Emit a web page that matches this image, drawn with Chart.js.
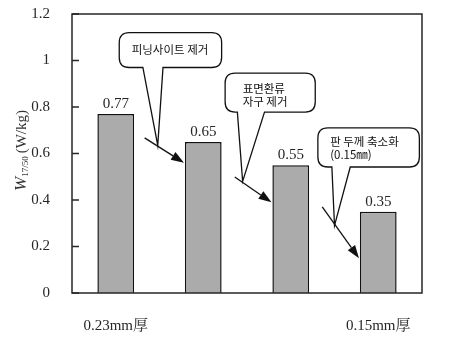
<!DOCTYPE html>
<html>
<head>
<meta charset="utf-8">
<script src="https://cdn.jsdelivr.net/npm/chart.js@4.4.1/dist/chart.umd.min.js"></script>
<style>
  html, body { margin: 0; padding: 0; background: #fff; }
  #wrap { width: 450px; height: 338px; }
</style>
</head>
<body>
<div id="wrap"><canvas id="chart-bar"></canvas></div>
<script>
// data
var categories = ["0.23mm厚", "", "", "0.15mm厚"];
var lossValues = [0.77, 0.65, 0.55, 0.35];
var valueLabels = ["0.77", "0.65", "0.55", "0.35"];
var yTickValues = [0, 0.2, 0.4, 0.6, 0.8, 1, 1.2];

// callouts, placed in data units (category index, W/kg)
var callouts = [
  { lines: ["피닝사이트 제거"], align: "center", textAt: [0.62, 1.045],
    box: [0.04, 1.21, 1.12, 0.97], tailBase: [0.31, 0.54], tailTip: [0.48, 0.635],
    arrow: [[0.33, 0.667], [0.78, 0.56]] },
  { lines: ["표면환류", "자구 제거"], align: "left", textAt: [1.45, 0.877],
    box: [1.25, 2.28, 0.946, 0.778], tailBase: [1.39, 1.70], tailTip: [1.45, 0.48],
    arrow: [[1.36, 0.499], [1.78, 0.39]] },
  { lines: ["판 두께 축소화", "(0.15㎜)"], align: "left", textAt: [2.45, 0.649],
    box: [2.31, 3.47, 0.71, 0.542], tailBase: [2.47, 2.68], tailTip: [2.5, 0.29],
    arrow: [[2.36, 0.37], [2.78, 0.15]] }
];

var serif = '"Liberation Serif", "Noto Serif CJK JP", "Noto Sans CJK JP", serif';
var korean = '"Noto Sans CJK KR", sans-serif';
var ink = "#262626";

function bubblePath(ctx, l, t, r, b, rad, b1, b2, tx, ty) {
  ctx.beginPath();
  ctx.moveTo(l + rad, t);
  ctx.lineTo(r - rad, t);
  ctx.quadraticCurveTo(r, t, r, t + rad);
  ctx.lineTo(r, b - rad);
  ctx.quadraticCurveTo(r, b, r - rad, b);
  ctx.lineTo(b2, b);
  ctx.lineTo(tx, ty);
  ctx.lineTo(b1, b);
  ctx.lineTo(l + rad, b);
  ctx.quadraticCurveTo(l, b, l, b - rad);
  ctx.lineTo(l, t + rad);
  ctx.quadraticCurveTo(l, t, l + rad, t);
  ctx.closePath();
}

function drawArrow(ctx, x1, y1, x2, y2) {
  var ang = Math.atan2(y2 - y1, x2 - x1);
  var len = 13, half = 4.5;
  var bx = x2 - len * Math.cos(ang), by = y2 - len * Math.sin(ang);
  ctx.beginPath();
  ctx.moveTo(x1, y1);
  ctx.lineTo(bx, by);
  ctx.stroke();
  ctx.beginPath();
  ctx.moveTo(x2, y2);
  ctx.lineTo(bx + half * Math.sin(ang), by - half * Math.cos(ang));
  ctx.lineTo(bx - half * Math.sin(ang), by + half * Math.cos(ang));
  ctx.closePath();
  ctx.fill();
}

var decorations = {
  id: "decorations",
  afterDraw: function (chart) {
    var ctx = chart.ctx, a = chart.chartArea;
    var xs = chart.scales.x, ys = chart.scales.y;
    var px = function (v) { return xs.getPixelForValue(v); };
    var py = function (v) { return ys.getPixelForValue(v); };
    ctx.save();

    // frame
    ctx.strokeStyle = ink;
    ctx.lineWidth = 1.5;
    ctx.strokeRect(a.left, a.top, a.right - a.left, a.bottom - a.top);

    // inward tick marks
    ys.ticks.forEach(function (t, i) {
      var y = ys.getPixelForTick(i);
      ctx.beginPath();
      ctx.moveTo(a.left, y);
      ctx.lineTo(a.left + 7, y);
      ctx.stroke();
    });

    // value labels over bars
    ctx.fillStyle = ink;
    ctx.font = "15px " + serif;
    ctx.textAlign = "center";
    ctx.textBaseline = "alphabetic";
    chart.getDatasetMeta(0).data.forEach(function (bar, i) {
      ctx.fillText(valueLabels[i], bar.x, bar.y - 6);
    });

    // callouts
    ctx.lineWidth = 1.3;
    ctx.strokeStyle = "#111";
    ctx.fillStyle = "#111";
    callouts.forEach(function (c) {
      drawArrow(ctx, px(c.arrow[0][0]), py(c.arrow[0][1]), px(c.arrow[1][0]), py(c.arrow[1][1]));
      bubblePath(ctx, px(c.box[0]), py(c.box[2]), px(c.box[1]), py(c.box[3]), 10,
        px(c.tailBase[0]), px(c.tailBase[1]), px(c.tailTip[0]), py(c.tailTip[1]));
      ctx.fillStyle = "#fff";
      ctx.fill();
      ctx.stroke();
      ctx.fillStyle = "#111";
      ctx.font = "11.5px " + korean;
      ctx.textAlign = c.align;
      ctx.textBaseline = "middle";
      c.lines.forEach(function (line, k) {
        ctx.fillText(line, px(c.textAt[0]), py(c.textAt[1]) + k * 13);
      });
    });

    // y axis title: W 17/50 (W/kg)
    ctx.translate(26, (a.top + a.bottom) / 2 - 3);
    ctx.rotate(-Math.PI / 2);
    ctx.fillStyle = "#333";
    ctx.textAlign = "left";
    ctx.textBaseline = "alphabetic";
    var fW = "italic 17px " + serif, fS = "9px " + serif, fU = "15px " + serif;
    ctx.font = fW; var wW = ctx.measureText("W").width;
    ctx.font = fS; var wS = ctx.measureText("17/50").width;
    ctx.font = fU; var wU = ctx.measureText("(W/kg)").width;
    var x0 = -(wW + wS + 3 + wU) / 2;
    ctx.font = fW; ctx.fillText("W", x0, 0);
    ctx.font = fS; ctx.fillText("17/50", x0 + wW, 2);
    ctx.font = fU; ctx.fillText("(W/kg)", x0 + wW + wS + 3, 0);

    ctx.restore();
  }
};

new Chart(document.getElementById("chart-bar").getContext("2d"), {
  type: "bar",
  data: {
    labels: categories,
    datasets: [{
      data: lossValues,
      backgroundColor: "#ababab",
      borderColor: "#111",
      borderWidth: 1.5,
      barPercentage: 0.42,
      categoryPercentage: 1
    }]
  },
  options: {
    responsive: true,
    maintainAspectRatio: false,
    animation: false,
    layout: { padding: { top: 14, right: 28, left: 0, bottom: 0 } },
    plugins: { legend: { display: false }, tooltip: { enabled: false } },
    scales: {
      x: {
        grid: { display: false },
        border: { display: false },
        ticks: { autoSkip: false, maxRotation: 0, padding: 16, color: ink,
          font: { size: 15, family: serif } },
        afterFit: function (s) { s.height = 45; s.paddingLeft = 0; s.paddingRight = 0; }
      },
      y: {
        min: 0,
        max: 1.2,
        grid: { display: false },
        border: { display: false },
        afterBuildTicks: function (s) {
          s.ticks = yTickValues.map(function (v) { return { value: v }; });
        },
        ticks: { padding: 14, color: ink, font: { size: 15, family: serif },
          callback: function (v) { return String(v); } },
        afterFit: function (s) { s.width = 72; s.paddingTop = 0; s.paddingBottom = 0; }
      }
    }
  },
  plugins: [decorations]
});
</script>
</body>
</html>
